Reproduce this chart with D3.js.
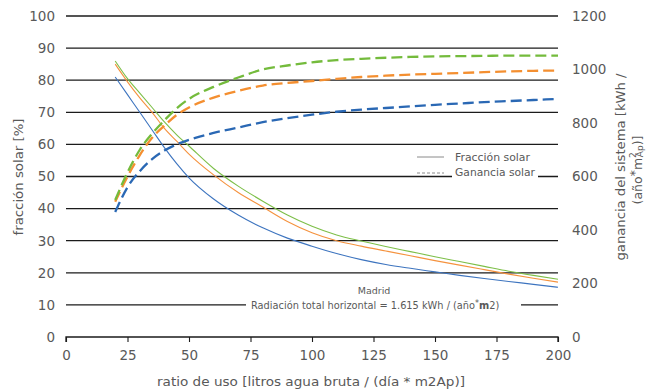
<!DOCTYPE html>
<html>
<head>
<meta charset="utf-8">
<script src="https://cdn.jsdelivr.net/npm/d3@7"></script>
<style>
  html, body { margin: 0; padding: 0; background: #fff; }
  svg { display: block; font-family: "DejaVu Sans", sans-serif; }
</style>
</head>
<body>
<svg id="chart" width="648" height="391"></svg>
<script>
// ---- data ----
const ratios = [20, 25, 30, 35, 40, 45, 50, 60, 70, 80, 90, 100, 110, 120, 130, 140, 150, 160, 170, 180, 190, 200];
const fracBlue   = [81, 75.5, 70, 64.5, 59, 54, 49.6, 43, 38, 34, 30.8, 28.3, 26, 24.1, 22.6, 21.4, 20.3, 19.2, 18.2, 17.3, 16.4, 15.5];
const fracOrange = [85, 79.5, 74.5, 70, 65, 61, 57, 50.5, 45, 40.5, 36, 32.5, 30, 28.3, 26.8, 25.3, 23.8, 22.4, 21, 19.6, 18.3, 17.1];
const fracGreen  = [86, 80.5, 76, 71.5, 67, 63, 59.5, 52.5, 47, 42.3, 38, 34.5, 31.8, 29.9, 28.2, 26.6, 25, 23.5, 22, 20.5, 19.2, 18];
const gainBlue   = [467, 560, 620, 665, 697, 720, 737, 763, 783, 803, 818, 831, 842, 850, 856, 862, 868, 873, 878, 882, 886, 890];
const gainOrange = [506, 600, 680, 745, 790, 830, 858, 895, 920, 940, 950, 957, 965, 972, 977, 981, 984, 987, 990, 993, 995, 996];
const gainGreen  = [512, 615, 700, 760, 810, 855, 890, 935, 970, 1000, 1015, 1027, 1035, 1040, 1044, 1047, 1049, 1050, 1051, 1052, 1052, 1052];
const xTicks = [0, 25, 50, 75, 100, 125, 150, 175, 200];
const leftTicks = [0, 10, 20, 30, 40, 50, 60, 70, 80, 90, 100];
const rightTicks = [0, 200, 400, 600, 800, 1000, 1200];
const seriesColors = ["#3d74bf", "#f5923e", "#7dbf48"];
const dashColors = ["#2a68b4", "#f48f30", "#74bb3c"];

// ---- layout ----
const svg = d3.select("#chart");
const mLeft = 66, mRight = 558, mTop = 16, mBottom = 337;
const x = d3.scaleLinear().domain([0, 200]).range([mLeft, mRight]);
const yL = d3.scaleLinear().domain([0, 100]).range([mBottom, mTop]);
const yR = d3.scaleLinear().domain([0, 1200]).range([mBottom, mTop]);
const textColor = "#595959";

// gridlines
svg.append("g")
  .selectAll("line")
  .data(leftTicks.filter(d => d > 0))
  .join("line")
  .attr("x1", mLeft).attr("x2", mRight)
  .attr("y1", d => yL(d)).attr("y2", d => yL(d))
  .attr("stroke", "#1b1b1b").attr("stroke-width", 1.3);

// x axis
const xAxis = d3.axisBottom(x).tickValues(xTicks).tickSize(5).tickPadding(8).tickFormat(d3.format("d"));
const gx = svg.append("g").attr("transform", `translate(0,${mBottom})`).call(xAxis);
gx.select(".domain").attr("stroke", "#1b1b1b").attr("stroke-width", 1.3).attr("d", `M${mLeft},5V0H${mRight}V5`);
gx.selectAll(".tick line").attr("stroke", "#1b1b1b").attr("stroke-width", 1.1);
gx.selectAll(".tick text").attr("fill", textColor).attr("font-size", 13.5).attr("font-family", "DejaVu Sans");

// left axis labels
const yAxisL = d3.axisLeft(yL).tickValues(leftTicks).tickSize(0).tickPadding(11).tickFormat(d3.format("d"));
const gyl = svg.append("g").attr("transform", `translate(${mLeft},0)`).call(yAxisL);
gyl.select(".domain").remove();
gyl.selectAll(".tick text").attr("fill", textColor).attr("font-size", 13.5).attr("font-family", "DejaVu Sans");

// right axis labels
const yAxisR = d3.axisRight(yR).tickValues(rightTicks).tickSize(0).tickPadding(14).tickFormat(d3.format("d"));
const gyr = svg.append("g").attr("transform", `translate(${mRight},0)`).call(yAxisR);
gyr.select(".domain").remove();
gyr.selectAll(".tick text").attr("fill", textColor).attr("font-size", 13.5).attr("font-family", "DejaVu Sans");

// annotation white boxes (cover gridlines)
svg.append("rect").attr("x", 246).attr("y", 298).attr("width", 275).attr("height", 14).attr("fill", "#fff");
svg.append("rect").attr("x", 452).attr("y", 165).attr("width", 86).attr("height", 14).attr("fill", "#fff");

// lines
const fracSeries = [fracBlue, fracOrange, fracGreen];
const gainSeries = [gainBlue, gainOrange, gainGreen];
const lineL = d3.line().x((d, i) => x(ratios[i])).y(d => yL(d)).curve(d3.curveMonotoneX);
const lineR = d3.line().x((d, i) => x(ratios[i])).y(d => yR(d)).curve(d3.curveMonotoneX);

fracSeries.forEach((s, k) => {
  svg.append("path").datum(s).attr("d", lineL)
    .attr("fill", "none").attr("stroke", seriesColors[k]).attr("stroke-width", 1.1);
});
gainSeries.forEach((s, k) => {
  svg.append("path").datum(s).attr("d", lineR)
    .attr("fill", "none").attr("stroke", dashColors[k]).attr("stroke-width", 2.3)
    .attr("stroke-dasharray", "11,5");
});

// legend
const lg = svg.append("g");
lg.append("line").attr("x1", 417).attr("x2", 444).attr("y1", 157).attr("y2", 157)
  .attr("stroke", "#8a8a8a").attr("stroke-width", 1);
lg.append("line").attr("x1", 417).attr("x2", 444).attr("y1", 173).attr("y2", 173)
  .attr("stroke", "#8a8a8a").attr("stroke-width", 1).attr("stroke-dasharray", "3,2");
lg.append("text").attr("x", 455).attr("y", 161).text("Fracción solar")
  .attr("fill", textColor).attr("font-size", 10.5).attr("textLength", 75).attr("lengthAdjust", "spacingAndGlyphs");
lg.append("text").attr("x", 455).attr("y", 176).text("Ganancia solar")
  .attr("fill", textColor).attr("font-size", 10.5).attr("textLength", 80).attr("lengthAdjust", "spacingAndGlyphs");

// annotation
svg.append("text").attr("x", 374).attr("y", 294).attr("text-anchor", "middle")
  .attr("fill", textColor).attr("font-size", 9.5).text("Madrid");
const ann = svg.append("text").attr("x", 251).attr("y", 309)
  .attr("fill", textColor).attr("font-size", 9.8);
ann.append("tspan").text("Radiación total horizontal  = 1.615 kWh  / (año");
ann.append("tspan").attr("dy", -3).attr("font-size", 8).text("*");
ann.append("tspan").attr("dy", 3).attr("font-weight", "bold").text("m");
ann.append("tspan").text("2)");

// axis titles
svg.append("text").attr("x", 311).attr("y", 386).attr("text-anchor", "middle")
  .attr("fill", textColor).attr("font-size", 12.5)
  .attr("textLength", 308).attr("lengthAdjust", "spacingAndGlyphs")
  .text("ratio de uso [litros agua bruta / (día * m2Ap)]");

svg.append("text").attr("transform", "translate(23,177) rotate(-90)").attr("text-anchor", "middle")
  .attr("fill", textColor).attr("font-size", 12.5)
  .attr("textLength", 117).attr("lengthAdjust", "spacingAndGlyphs")
  .text("fracción solar [%]");

svg.append("text").attr("transform", "translate(625,167) rotate(-90)").attr("text-anchor", "middle")
  .attr("fill", textColor).attr("font-size", 12.5)
  .attr("textLength", 187).attr("lengthAdjust", "spacingAndGlyphs")
  .text("ganancia del sistema [kWh /");
const rt2 = svg.append("text").attr("transform", "translate(642,170) rotate(-90)").attr("text-anchor", "middle")
  .attr("fill", textColor).attr("font-size", 12.5);
rt2.append("tspan").text("(año");
rt2.append("tspan").attr("dy", -3).text("*");
rt2.append("tspan").attr("dy", 3).text("m");
rt2.append("tspan").attr("dy", -6).attr("font-size", 9).text("2");
rt2.append("tspan").attr("dy", 7).attr("dx", -5).attr("font-size", 9).text("Ap");
rt2.append("tspan").attr("dy", -1).text(")]");
</script>
</body>
</html>
